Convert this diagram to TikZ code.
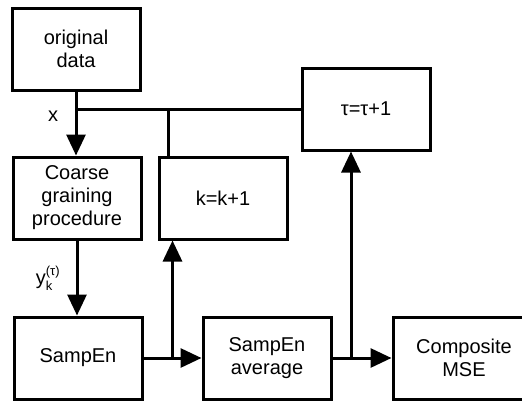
\documentclass[tikz,border=0pt]{standalone}
\usepackage{amsmath}
\usepackage{fontspec}
\setmainfont{Liberation Sans}
\usetikzlibrary{arrows.meta}

\tikzset{
  block/.style={draw, line width=3pt, minimum width=128pt, minimum height=82pt,
    align=center, inner sep=0pt, font=\fontsize{20}{23}\selectfont},
  arr/.style={line width=3pt, -{Triangle[length=21pt,width=19pt]}},
  wire/.style={line width=3pt}
}

\begin{document}
\begin{tikzpicture}[x=1pt,y=-1pt]
        \useasboundingbox (0,0) rectangle (522,407);

        % Draw blocks
        \node[block] (orig) at (76,49) {original\\data};
        \node[block] (coarse) at (77,198) {Coarse\\graining\\procedure};
        \node[block] (kinc) at (223,198) {k=k+1};
        \node[block] (tauinc) at (366,109) {τ=τ+1};
        \node[block] (sampen) at (78,358) {SampEn};
        \node[block] (avg) at (267,358) {SampEn\\average};
        \node[block, minimum width=142pt] (cmse) at (464,358) {Composite\\MSE};

        % Feedback points
        \coordinate (kback) at ([xshift=11pt]kinc.north west);
        \coordinate (kup) at ([xshift=15pt]kinc.south west);
        \coordinate (tauup) at ([xshift=-15pt]tauinc.south);

        % Draw main arrows
        \draw[arr] (orig.south) -- (orig.south |- coarse.north);
        \node[font=\fontsize{20}{23}\selectfont] (xlab) at (53,116) {x};
        \draw[arr] (coarse.south) -- (coarse.south |- sampen.north);
        \node[font=\fontsize{20}{23}\selectfont] (ylab) at (48,278) {y$_{\text{\fontsize{13}{15}\selectfont k}}^{\text{\fontsize{13}{15}\selectfont (τ)}}$};
        \draw[arr] (sampen.east) -- (avg.west);
        \draw[arr] (avg.east) -- (cmse.west);

        % Draw loops
        \draw[arr] (sampen.east -| kup) -- (kup);
        \draw[arr] (avg.east -| tauup) -- (tauup);
        \draw[wire] (tauinc.west) -- (tauinc.west -| orig.south);
        \draw[wire] (kback) -- (kback |- tauinc.west);

\end{tikzpicture}
\end{document}
